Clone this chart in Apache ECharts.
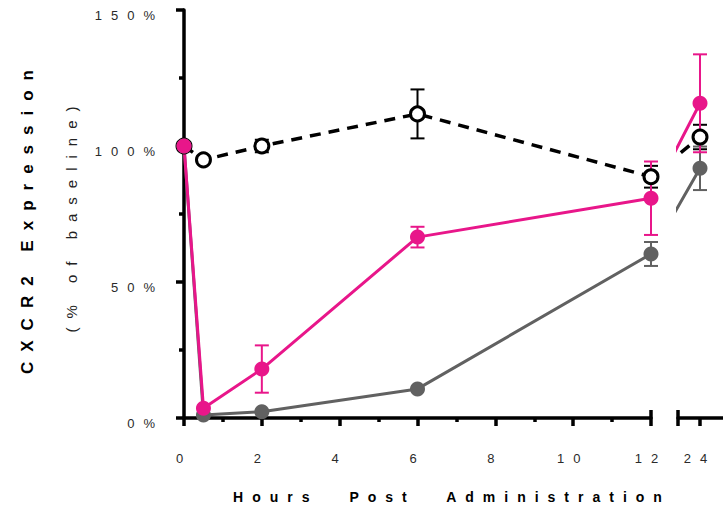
<!DOCTYPE html>
<html>
<head>
<meta charset="utf-8">
<title></title>
<script src="https://cdn.jsdelivr.net/npm/echarts@6/dist/echarts.min.js"></script>
<style>
  html, body { margin: 0; padding: 0; background: #fff; }
  #main { width: 723px; height: 507px; letter-spacing: 9px; }
</style>
</head>
<body>
<div id="main"></div>
<script>
// hours after dosing
var hours = [0, 0.5, 2, 6, 12, 24];
// % of baseline, mean and error
var pinkMean  = [100, 3.6, 18, 66.5, 80.8, 115.7];
var pinkErr   = [0, 0, 8.7, 3.8, 13.5, 18];
var grayMean  = [100, 1.1, 2.3, 10.7, 60.3, 91.8];
var grayErr   = [0, 0, 0, 0, 4.4, 8];
var blackMean = [100, 94.9, 100, 111.8, 88.7, 103.3];
var blackErr  = [0, 0, 2.3, 9, 4, 4.5];

var leftTicks = [0, 2, 4, 6, 8, 10, 12];
var rightTicks = [24];

var xTitle = 'Hours Post Administration';
var yTitle = 'CXCR2 Expression';
var ySubTitle = '(% of baseline)';

var PINK = '#e8168a', GRAY = '#616161', BLACK = '#000';
var FONT = '"Liberation Sans", Arial, sans-serif';

// second segment after the axis break (same slope as the lines crossing it)
var seg2Min = 18.61, seg2Max = 29.63;

function pairs(mean) {
  var out = [];
  for (var i = 0; i < hours.length; i++) out.push([hours[i], mean[i]]);
  return out;
}

function errData(mean, err, lo, hi) {
  var out = [];
  for (var i = 0; i < hours.length; i++) {
    if (err[i] > 0 && hours[i] >= lo && hours[i] <= hi) {
      out.push([hours[i], mean[i] - err[i], mean[i] + err[i]]);
    }
  }
  return out;
}

function errSeries(mean, err, color, g) {
  return {
    type: 'custom',
    xAxisIndex: g === 0 ? 0 : 2,
    yAxisIndex: g,
    silent: true,
    data: g === 0 ? errData(mean, err, 0, 12) : errData(mean, err, 13, 100),
    renderItem: function (params, api) {
      var top = api.coord([api.value(0), api.value(2)]);
      var bot = api.coord([api.value(0), api.value(1)]);
      var w = 7;
      var st = { stroke: color, lineWidth: 2 };
      return {
        type: 'group',
        children: [
          { type: 'line', shape: { x1: top[0], y1: top[1], x2: bot[0], y2: bot[1] }, style: st },
          { type: 'line', shape: { x1: top[0] - w, y1: top[1], x2: top[0] + w, y2: top[1] }, style: st },
          { type: 'line', shape: { x1: bot[0] - w, y1: bot[1], x2: bot[0] + w, y2: bot[1] }, style: st }
        ]
      };
    }
  };
}

function lineSeries(mean, g, opt) {
  return {
    type: 'line',
    xAxisIndex: g === 0 ? 0 : 2,
    yAxisIndex: g,
    data: pairs(mean),
    symbol: 'circle',
    symbolSize: opt.size,
    showSymbol: true,
    clip: true,
    lineStyle: opt.line,
    itemStyle: opt.item,
    emphasis: { disabled: true },
    silent: true
  };
}

var blackOpt = {
  size: 14,
  line: { color: BLACK, width: 3.5, type: [11, 8] },
  item: { color: '#fff', borderColor: BLACK, borderWidth: 3, opacity: 1 }
};
var grayOpt = {
  size: 15,
  line: { color: GRAY, width: 3 },
  item: { color: GRAY, borderWidth: 0, opacity: 1 }
};
var pinkOpt = {
  size: 15,
  line: { color: PINK, width: 3 },
  item: { color: PINK, borderWidth: 0, opacity: 1 }
};

var series = [];
[0, 1].forEach(function (g) {
  series.push(errSeries(blackMean, blackErr, BLACK, g));
  series.push(lineSeries(blackMean, g, blackOpt));
  series.push(errSeries(grayMean, grayErr, GRAY, g));
  series.push(lineSeries(grayMean, g, grayOpt));
  series.push(errSeries(pinkMean, pinkErr, PINK, g));
  series.push(lineSeries(pinkMean, g, pinkOpt));
});

var AXW = 3.5;
var axisLine = { show: true, onZero: false, lineStyle: { color: '#000', width: AXW } };
var labelStyle = { color: '#2a2a2a', fontSize: 13, fontFamily: FONT };

var option = {
  animation: false,
  backgroundColor: '#fff',
  grid: [
    { left: 184, top: 10, width: 467, height: 408 },
    { left: 678, top: 10, width: 45, height: 408 }
  ],
  xAxis: [
    {
      type: 'value', gridIndex: 0, min: 0, max: 12, interval: 2,
      position: 'bottom',
      axisLine: axisLine,
      axisTick: { show: true, length: 8, lineStyle: { color: '#000', width: AXW } },
      minorTick: { show: true, splitNumber: 2, length: 4, lineStyle: { color: '#000', width: AXW } },
      axisLabel: Object.assign({ margin: 34, customValues: leftTicks }, labelStyle),
      splitLine: { show: false }
    },
    {
      type: 'value', gridIndex: 0, min: 0, max: 12,
      position: 'bottom',
      axisLine: { show: false },
      axisTick: { show: true, inside: true, length: 8, customValues: [12], lineStyle: { color: '#000', width: AXW } },
      axisLabel: { show: false },
      splitLine: { show: false }
    },
    {
      type: 'value', gridIndex: 1, min: seg2Min, max: seg2Max,
      position: 'bottom',
      axisLine: axisLine,
      axisTick: { show: true, length: 8, customValues: [seg2Min].concat(rightTicks), lineStyle: { color: '#000', width: AXW } },
      axisLabel: Object.assign({ margin: 34, customValues: rightTicks }, labelStyle),
      splitLine: { show: false }
    },
    {
      type: 'value', gridIndex: 1, min: seg2Min, max: seg2Max,
      position: 'bottom',
      axisLine: { show: false },
      axisTick: { show: true, inside: true, length: 8, customValues: [seg2Min], lineStyle: { color: '#000', width: AXW } },
      axisLabel: { show: false },
      splitLine: { show: false }
    }
  ],
  yAxis: [
    {
      type: 'value', gridIndex: 0, min: 0, max: 150, interval: 50,
      axisLine: axisLine,
      axisTick: { show: true, length: 8, lineStyle: { color: '#000', width: AXW } },
      minorTick: { show: true, splitNumber: 2, length: 5, lineStyle: { color: '#000', width: AXW } },
      axisLabel: Object.assign({
        margin: 20, verticalAlign: 'top', lineHeight: 10,
        formatter: function (v) { return v + '%'; }
      }, labelStyle),
      splitLine: { show: false }
    },
    {
      type: 'value', gridIndex: 1, min: 0, max: 150, show: false
    }
  ],
  graphic: [
    {
      type: 'text', x: 27, y: 217, rotation: Math.PI / 2,
      style: { text: yTitle, font: 'bold 17px ' + FONT, fill: '#000', textAlign: 'center', textVerticalAlign: 'middle' }
    },
    {
      type: 'text', x: 71, y: 215, rotation: Math.PI / 2,
      style: { text: ySubTitle, font: '15px ' + FONT, fill: '#222', textAlign: 'center', textVerticalAlign: 'middle' }
    },
    {
      type: 'text', x: 452, y: 497,
      style: { text: xTitle, font: 'bold 14px ' + FONT, fill: '#000', textAlign: 'center', textVerticalAlign: 'middle' }
    }
  ],
  series: series
};

var myChart = echarts.init(document.getElementById('main'), null, { renderer: 'svg' });
myChart.setOption(option);

// wider word gaps in the x title and a touch more spacing on the y title
function spaceTitles() {
  var texts = document.querySelectorAll('#main svg text');
  for (var i = 0; i < texts.length; i++) {
    if (texts[i].textContent === xTitle) {
      texts[i].style.wordSpacing = '18px';
    }
    if (texts[i].textContent === yTitle) {
      texts[i].style.letterSpacing = '10px';
    }
  }
}
spaceTitles();
myChart.on('finished', spaceTitles);
</script>
</body>
</html>
